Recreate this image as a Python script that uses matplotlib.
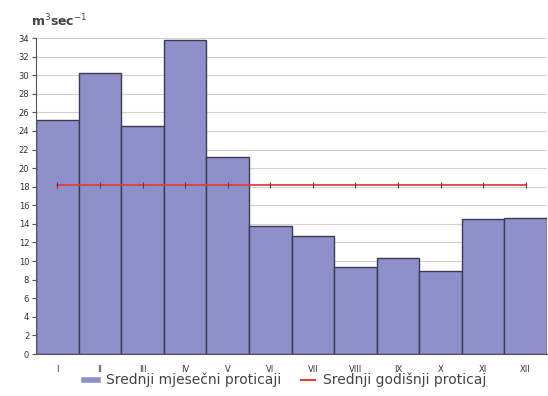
import matplotlib
matplotlib.use("Agg")
import matplotlib.pyplot as plt
import numpy as np
from matplotlib.lines import Line2D

months = ["I", "II", "III", "IV", "V", "VI", "VII", "VIII", "IX", "X", "XI", "XII"]
monthly_flow = [25.2, 30.2, 24.5, 33.8, 21.2, 13.8, 12.7, 9.4, 10.3, 8.9, 14.5, 14.6]
annual_mean = 18.2
y_ticks = list(range(0, 35, 2))
legend_labels = ["Srednji mjesečni proticaji", "Srednji godišnji proticaj"]

fig = plt.figure(figsize=(5.48, 3.96), dpi=100)
ax = fig.add_axes([0.066, 0.106, 0.932, 0.798])

x = np.arange(len(months))
ax.bar(x, monthly_flow, width=1.0, color="#8f8fc9", edgecolor="#3a3a55", linewidth=1.0, zorder=2)
ax.plot(x, [annual_mean] * len(months), color="#e0403a", linewidth=1.3,
        marker="|", markersize=4, markeredgecolor="#7a3030", markeredgewidth=0.8, zorder=3)

ax.set_xlim(-0.5, len(months) - 0.5)
ax.set_ylim(0, 34)
ax.set_yticks(y_ticks)
ax.set_yticklabels([str(v) for v in y_ticks], fontsize=6, color="#333333")
ax.set_xticks(x)
ax.set_xticklabels(months, fontsize=6, color="#333333")
ax.tick_params(axis="x", length=0, pad=8)
ax.tick_params(axis="y", length=3, width=0.8, color="#555555", pad=2)
ax.yaxis.grid(True, color="#d0d0d0", linewidth=0.8, zorder=0)
ax.set_axisbelow(True)
for s in ["top", "right"]:
    ax.spines[s].set_visible(False)
ax.spines["left"].set_color("#555555")
ax.spines["bottom"].set_color("#555555")

fig.text(0.056, 0.948, "m$^3$sec$^{-1}$", fontsize=9, fontweight="bold", color="#444444",
         ha="left", va="center")

h1 = Line2D([0], [0], color="#8f8fc9", linewidth=4)
h2 = Line2D([0], [0], color="#e0403a", linewidth=1.5)
fig.legend([h1, h2], legend_labels, loc="center", bbox_to_anchor=(0.52, 0.04), ncol=2,
           frameon=False, fontsize=10, handlelength=1.0, handletextpad=0.6,
           columnspacing=1.4, labelcolor="#444444")

fig.savefig("out.png", dpi=100)
